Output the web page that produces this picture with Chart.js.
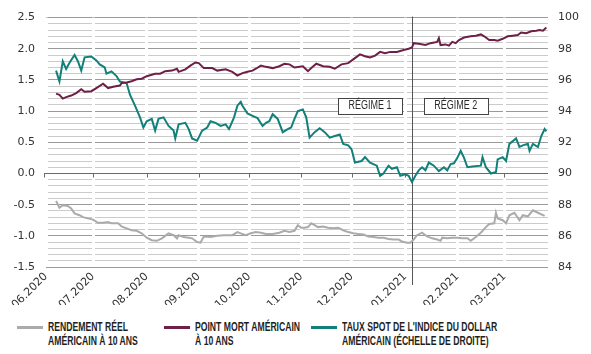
<!DOCTYPE html>
<html>
<head>
<meta charset="utf-8">
<script src="https://cdn.jsdelivr.net/npm/chart.js@4"></script>
<style>
  body { margin: 0; background: #fff; }
  #wrap { position: relative; width: 591px; height: 354px; }
  #chart { position: absolute; left: 0; top: 0; }
  .leg { position: absolute; top: 320px; font: bold 12.5px "Liberation Sans", Arial, sans-serif; line-height: 14px; color: #1e1e1e; }
  .leg i { position: absolute; left: 0; top: 6px; width: 26px; height: 3px; }
  .leg span { display: block; margin-left: 31px; white-space: nowrap; transform: scaleX(0.69); transform-origin: 0 0; }
</style>
</head>
<body>
<div id="wrap">
  <canvas id="chart" width="591" height="305"></canvas>
  <div class="leg" style="left:17px"><i style="background:#ababab"></i><span>RENDEMENT RÉEL<br>AMÉRICAIN À 10 ANS</span></div>
  <div class="leg" style="left:164px"><i style="background:#6d1f47"></i><span>POINT MORT AMÉRICAIN<br>À 10 ANS</span></div>
  <div class="leg" style="left:311px"><i style="background:#12807a"></i><span>TAUX SPOT DE L'INDICE DU DOLLAR<br>AMÉRICAIN (ÉCHELLE DE DROITE)</span></div>
</div>
<script>
// x = days counted from the left edge of the plot (start of June 2020)
const monthTicks = [0, 28, 60, 91, 121, 152, 182, 214, 245, 273];
const monthLabels = ["06.2020", "07.2020", "08.2020", "09.2020", "10.2020", "11.2020", "12.2020", "01.2021", "02.2021", "03.2021"];
const regimeDay = 218;
const regimeLabels = ["RÉGIME 1", "RÉGIME 2"];
const regimeLabelDays = [193, 244];
const regimeLabelLevel = 1.09;

// US 10y real yield (left axis)
const realDays = [6,8,10,13,15,17,20,22,25,28,
  31,34,37,39,43,45,48,51,54,57,
  60,63,66,69,73,76,78,79,82,85,
  87,90,92,94,98,102,106,111,114,116,
  119,122,125,128,131,135,139,142,145,148,
  150,152,154,156,158,160,162,165,168,171,
  174,177,180,183,186,189,192,195,198,201,
  204,207,210,212,215,217,219,221,224,227,
  230,233,235,236,239,242,245,248,251,253,
  256,259,262,264,267,268,269,272,274,276,
  279,282,284,287,290,293,297];
const realValues = [-0.44,-0.55,-0.51,-0.52,-0.56,-0.64,-0.67,-0.70,-0.72,-0.74,
  -0.79,-0.79,-0.78,-0.80,-0.80,-0.85,-0.88,-0.91,-0.92,-0.96,
  -1.03,-1.07,-1.08,-1.04,-0.96,-0.99,-1.04,-0.99,-1.02,-1.03,
  -1.04,-1.10,-1.11,-1.01,-1.02,-1.00,-0.99,-0.99,-0.94,-0.96,
  -0.99,-0.96,-0.94,-0.95,-0.97,-0.97,-0.95,-0.92,-0.94,-0.92,
  -0.83,-0.87,-0.87,-0.86,-0.80,-0.83,-0.86,-0.85,-0.87,-0.88,
  -0.87,-0.91,-0.94,-0.96,-0.97,-0.98,-1.01,-1.02,-1.03,-1.03,
  -1.05,-1.06,-1.06,-1.09,-1.11,-1.11,-1.06,-0.99,-0.95,-1.01,
  -1.04,-1.06,-1.08,-1.03,-1.04,-1.03,-1.03,-1.04,-1.04,-1.08,
  -1.02,-0.95,-0.86,-0.81,-0.80,-0.63,-0.72,-0.75,-0.80,-0.67,
  -0.63,-0.75,-0.67,-0.69,-0.59,-0.63,-0.68];

// US 10y breakeven (left axis)
const beDays = [6,8,10,12,15,18,21,23,27,30,
  34,37,40,44,45,48,51,54,57,60,
  65,68,71,75,78,79,83,86,89,91,
  94,99,102,107,111,114,117,120,123,125,
  128,131,135,139,142,145,148,153,156,158,
  161,165,169,172,176,180,184,187,190,193,
  196,199,202,205,209,213,216,218,219,222,
  226,229,233,234,235,238,240,242,244,246,
  249,253,256,259,261,264,267,269,272,275,
  278,281,283,286,289,292,294,296,298];
const beValues = [1.28,1.26,1.20,1.225,1.25,1.29,1.35,1.31,1.32,1.37,
  1.44,1.37,1.39,1.41,1.45,1.46,1.48,1.51,1.52,1.56,
  1.60,1.60,1.64,1.65,1.68,1.63,1.67,1.73,1.78,1.77,
  1.69,1.69,1.65,1.67,1.63,1.57,1.61,1.63,1.65,1.68,
  1.73,1.71,1.69,1.72,1.76,1.75,1.70,1.72,1.64,1.69,
  1.76,1.72,1.71,1.68,1.75,1.77,1.85,1.91,1.88,1.86,
  1.89,1.95,1.93,1.95,1.95,1.98,2.00,2.02,2.09,2.08,
  2.06,2.09,2.11,2.17,2.06,2.07,2.05,2.11,2.09,2.14,
  2.18,2.20,2.21,2.23,2.20,2.14,2.14,2.13,2.16,2.20,
  2.21,2.22,2.26,2.25,2.28,2.29,2.30,2.29,2.34];

// dollar index spot (right axis)
const dxyDays = [6,8,10,12,14,17,19,21,23,27,
  30,32,35,36,39,42,44,48,50,53,
  56,58,60,63,65,67,70,73,76,77,
  79,83,85,87,90,93,96,98,101,104,
  107,109,112,114,116,117,120,123,126,129,
  131,133,135,138,141,144,146,148,150,153,
  155,157,160,163,166,169,172,175,177,180,
  182,184,188,190,193,197,199,201,204,206,
  209,211,214,216,218,220,222,224,226,228,
  231,234,237,239,241,243,245,247,249,251,
  254,259,260,262,265,268,269,272,274,276,
  280,282,284,287,288,290,293,295,297,298];
const dxyValues = [96.6,95.9,97.2,96.7,97.1,97.6,97.2,96.6,97.45,97.5,
  97.25,97.0,96.8,96.4,96.55,96.25,95.9,95.8,95.05,94.35,
  93.6,92.95,93.35,93.5,92.75,93.5,93.6,93.05,92.75,92.25,
  93.15,93.25,92.85,92.25,92.1,92.75,92.95,93.35,93.25,93.05,
  93.15,92.85,93.6,94.35,94.6,94.35,93.85,93.7,93.55,93.05,
  93.25,93.35,93.8,93.5,92.65,92.85,92.95,93.5,94.0,94.1,
  93.6,92.3,92.65,92.9,92.65,92.3,92.4,92.5,91.9,91.8,
  91.55,90.7,90.8,91.05,90.7,90.5,89.85,90.0,90.5,90.3,
  90.4,89.85,89.95,89.85,89.45,89.85,90.2,90.4,90.2,90.7,
  90.5,90.15,90.4,90.2,90.6,90.65,91.0,91.45,91.0,90.4,
  90.45,90.5,91.05,90.4,90.0,90.1,90.9,91.05,90.8,91.9,
  92.25,91.7,91.8,91.9,91.45,91.9,91.7,92.4,92.85,92.7];

function pairs(days, values) {
  return days.map((d, i) => ({ x: d, y: values[i] }));
}

const tickFont = { family: "DejaVu Sans", size: 11 };
const labelFont = '12.5px "Liberation Sans", Arial, sans-serif';

const overlay = {
  id: "overlay",
  beforeDatasetsDraw(chart) {
    const { ctx, scales: { x, y } } = chart;
    const y0 = Math.round(y.getPixelForValue(0)) + 0.5;
    ctx.save();
    ctx.strokeStyle = "#6a6a6a";
    ctx.lineWidth = 1;
    ctx.beginPath();
    ctx.moveTo(x.left - 2, y0);
    ctx.lineTo(x.right, y0);
    monthTicks.forEach(d => {
      let px = Math.round(x.getPixelForValue(d)) + 0.5;
      if (d === 0) px -= 2;
      ctx.moveTo(px, y0);
      ctx.lineTo(px, y0 + 4);
    });
    ctx.stroke();
    // regime divider
    const xd = Math.round(x.getPixelForValue(regimeDay)) + 0.5;
    ctx.strokeStyle = "#555";
    ctx.beginPath();
    ctx.moveTo(xd, chart.chartArea.top - 1);
    ctx.lineTo(xd, chart.chartArea.bottom + 18);
    ctx.stroke();
    ctx.restore();
  },
  afterDatasetsDraw(chart) {
    const { ctx, scales: { x, y } } = chart;
    const squeeze = 0.72;
    ctx.save();
    ctx.font = labelFont;
    ctx.textAlign = "center";
    ctx.textBaseline = "middle";
    regimeLabels.forEach((txt, i) => {
      const cx = x.getPixelForValue(regimeLabelDays[i]);
      const cy = y.getPixelForValue(regimeLabelLevel);
      const w = Math.round(ctx.measureText(txt).width * squeeze + 21);
      const h = 16;
      const bx = Math.round(cx - w / 2) + 0.5, by = Math.round(cy - h / 2) + 0.5;
      ctx.fillStyle = "#fff";
      ctx.fillRect(bx, by, w, h);
      ctx.strokeStyle = "#444";
      ctx.lineWidth = 1;
      ctx.strokeRect(bx, by, w, h);
      ctx.fillStyle = "#2a2a2a";
      ctx.save();
      ctx.translate(cx, cy + 0.5);
      ctx.scale(squeeze, 1);
      ctx.fillText(txt, 0, 0);
      ctx.restore();
    });
    ctx.restore();
  }
};

const isMajor = v => Math.abs(v * 2 - Math.round(v * 2)) < 1e-6;

new Chart(document.getElementById("chart"), {
  type: "line",
  data: {
    datasets: [
      { data: pairs(realDays, realValues), yAxisID: "y", borderColor: "#ababab", borderWidth: 2 },
      { data: pairs(beDays, beValues), yAxisID: "y", borderColor: "#6d1f47", borderWidth: 2 },
      { data: pairs(dxyDays, dxyValues), yAxisID: "y2", borderColor: "#12807a", borderWidth: 2 }
    ]
  },
  options: {
    responsive: false,
    animation: false,
    devicePixelRatio: 1,
    layout: { padding: { top: 16, left: 0, right: 0, bottom: 0 } },
    elements: { point: { radius: 0 }, line: { tension: 0 } },
    plugins: { legend: { display: false }, tooltip: { enabled: false } },
    scales: {
      x: {
        type: "linear",
        min: 0,
        max: 299,
        afterBuildTicks: s => { s.ticks = monthTicks.map(v => ({ value: v })); },
        afterFit: s => { s.height = 38; },
        ticks: {
          autoSkip: false,
          maxRotation: 45,
          minRotation: 45,
          padding: 3,
          color: "#333",
          font: tickFont,
          callback: v => monthLabels[monthTicks.indexOf(v)]
        },
        grid: { color: "#fff", lineWidth: 3, drawTicks: false, z: -0.5 },
        border: { display: false }
      },
      y: {
        position: "left",
        min: -1.5,
        max: 2.5,
        afterFit: s => { s.width = 46; },
        ticks: {
          stepSize: 0.1,
          autoSkip: false,
          padding: 11,
          color: "#333",
          font: tickFont,
          callback: v => isMajor(v) ? v.toFixed(1) : ""
        },
        grid: {
          drawTicks: false,
          lineWidth: 1,
          color: c => isMajor(c.tick.value) ? "#9a9a9a" : "#cbcbcb"
        },
        border: { display: false }
      },
      y2: {
        position: "right",
        min: 84,
        max: 100,
        afterFit: s => { s.width = 43; },
        ticks: { stepSize: 2, padding: 10, color: "#333", font: tickFont },
        grid: { display: false, drawTicks: false },
        border: { display: false }
      }
    }
  },
  plugins: [overlay]
});
</script>
</body>
</html>
